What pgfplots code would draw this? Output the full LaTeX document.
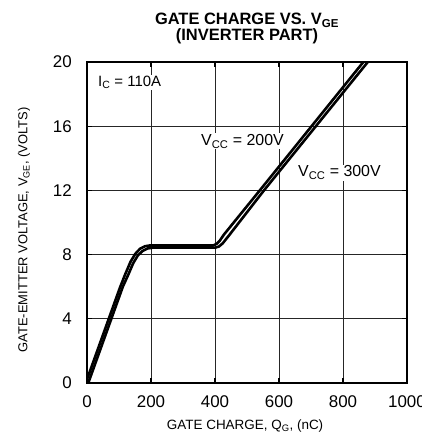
\documentclass[border=0pt]{standalone}
\usepackage{pgfplots}
\pgfplotsset{compat=1.18}
\usepackage{fontspec}
\setmainfont{Liberation Sans}
\begin{document}
\begin{tikzpicture}
\begin{axis}[
    scale only axis,
    width=320bp, height=321bp,
    xmin=0, xmax=1000, ymin=0, ymax=20,
    xtick={0,200,...,1000}, ytick={0,4,...,20},
    grid=major,
    major grid style={line width=0.7bp, black!85},
    axis line style={line width=1.4bp},
    tick align=inside, tick pos=both,
    major tick length=5bp,
    tick style={line width=1.3bp, black},
    /pgf/number format/assume math mode=true,
    /pgf/number format/1000 sep={},
    tick label style={font=\fontsize{17}{17}\selectfont, inner sep=0pt},
    yticklabel style={xshift=-15bp},
    xticklabel style={yshift=-12bp},
    xlabel={GATE CHARGE, Q\textsubscript{G}, (nC)},
    ylabel={GATE-EMITTER VOLTAGE, V\textsubscript{GE}, (VOLTS)},
    every axis x label/.style={at={(axis description cs:0.494,-0.134)}, anchor=center,
        font=\fontsize{13.5}{13.5}\selectfont},
    every axis y label/.style={at={(axis description cs:-0.197,0.477)}, anchor=center, rotate=90,
        font=\fontsize{13}{13}\selectfont},
    title={GATE CHARGE VS. V\textsubscript{GE}\\(INVERTER PART)},
    every axis title/.style={at={(axis description cs:0.5,1.104)}, anchor=center, align=center,
        font=\fontsize{16.5}{14}\bfseries},
    clip=true,
]
% VCC = 200V
\addplot[line width=2.6bp, black, line join=round] coordinates {
    (-4,0) (32,2) (68,4) (104,6) (121,6.85) (136,7.55) (151,8.05) (166,8.37)
    (181,8.52) (196,8.57) (395,8.57) (405,8.67) (415,8.87) (428,9.25)
    (540,12) (900,20.9)};
% VCC = 300V
\addplot[line width=2.6bp, black, line join=round] coordinates {
    (4,0) (40,2) (76,4) (112,6) (129,6.75) (144,7.45) (159,7.95) (174,8.23)
    (189,8.38) (204,8.43) (400,8.43) (412,8.5) (424,8.7) (442,9.15)
    (553,12) (910,20.8)};
\coordinate (ic) at (axis cs:31,18.75);
\coordinate (v2) at (axis cs:353,15.06);
\coordinate (v3) at (axis cs:656,13.1);
\end{axis}
\node[anchor=west, fill=white, inner sep=1bp, font=\fontsize{15}{15}\selectfont] at (ic) {I\textsubscript{C} = 110A};
\node[anchor=west, fill=white, inner sep=1bp, font=\fontsize{16}{16}\selectfont] at (v2) {V\textsubscript{CC} = 200V};
\node[anchor=west, fill=white, inner sep=1bp, font=\fontsize{16}{16}\selectfont] at (v3) {V\textsubscript{CC} = 300V};
\pgfresetboundingbox
\path (-87bp,-52bp) rectangle (335bp,383bp);
\end{tikzpicture}
\end{document}
